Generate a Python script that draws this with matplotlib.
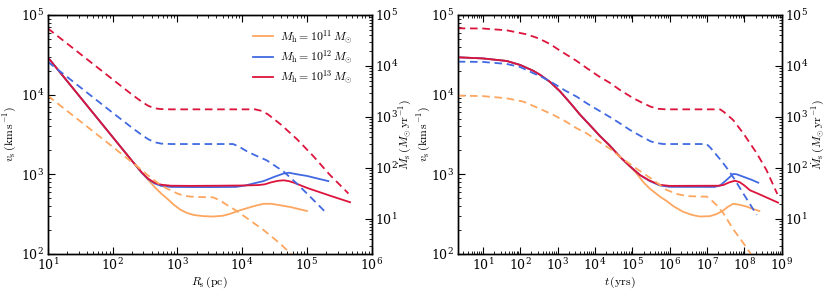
import numpy as np
import matplotlib
matplotlib.use("Agg")
import matplotlib.pyplot as plt
from matplotlib.ticker import LogLocator, NullFormatter

plt.rcParams['mathtext.fontset'] = 'cm'
plt.rcParams['font.family'] = ['DejaVu Serif']
plt.rcParams['axes.unicode_minus'] = False

C_ORANGE = '#FDA65F'
C_BLUE = '#4169E1'
C_RED = '#DC143C'

labels = [r'$M_{\rm h}=10^{11}\,M_{\odot}$', r'$M_{\rm h}=10^{12}\,M_{\odot}$', r'$M_{\rm h}=10^{13}\,M_{\odot}$']

# ---------------- Left panel: vs R_s (log10 values) ----------------
# solid: v_s (km/s)
L_red_v_logR = [1.0, 1.5, 2.0, 2.3, 2.45, 2.55, 2.65, 2.75, 2.9, 3.2, 3.6, 4.0, 4.25, 4.35, 4.45, 4.55, 4.64, 4.72, 4.8, 5.0, 5.2, 5.4, 5.665]
L_red_v = [4.47, 3.97, 3.47, 3.17, 3.025, 2.945, 2.895, 2.87, 2.857, 2.855, 2.857, 2.86, 2.865, 2.875, 2.90, 2.918, 2.925, 2.915, 2.895, 2.83, 2.775, 2.72, 2.65]

L_blue_v_logR = [1.0, 1.5, 2.0, 2.3, 2.45, 2.55, 2.65, 2.75, 2.9, 3.2, 3.6, 3.9, 4.05, 4.2, 4.33, 4.5, 4.64, 4.72, 4.85, 5.0, 5.15, 5.33]
L_blue_v = [4.47, 3.97, 3.47, 3.17, 3.02, 2.94, 2.885, 2.855, 2.842, 2.84, 2.84, 2.842, 2.86, 2.89, 2.915, 2.97, 3.01, 3.02, 3.0, 2.98, 2.95, 2.915]

L_orange_v_logR = [1.0, 1.5, 2.0, 2.3, 2.45, 2.55, 2.65, 2.75, 2.85, 2.95, 3.05, 3.15, 3.25, 3.4, 3.55, 3.7, 3.81, 3.95, 4.07, 4.2, 4.33, 4.45, 4.6, 4.74, 4.87, 5.0]
L_orange_v = [4.47, 3.97, 3.47, 3.17, 3.02, 2.93, 2.84, 2.76, 2.69, 2.615, 2.555, 2.515, 2.49, 2.475, 2.47, 2.48, 2.503, 2.545, 2.574, 2.605, 2.63, 2.63, 2.61, 2.59, 2.565, 2.54]

# dashed: Mdot_s (Msun/yr)
L_red_m_logR = [1.0, 1.5, 2.0, 2.3, 2.45, 2.55, 2.65, 2.75, 2.9, 3.5, 4.2, 4.3, 4.4, 4.6, 4.85, 5.1, 5.35, 5.64]
L_red_m = [4.739, 4.239, 3.739, 3.44, 3.30, 3.22, 3.17, 3.155, 3.15, 3.15, 3.15, 3.12, 3.05, 2.85, 2.56, 2.23, 1.87, 1.50]

L_blue_m_logR = [1.0, 1.5, 2.0, 2.3, 2.45, 2.55, 2.65, 2.75, 2.9, 3.5, 3.86, 3.95, 4.07, 4.2, 4.38, 4.64, 4.84, 5.1, 5.305]
L_blue_m = [4.085, 3.585, 3.085, 2.79, 2.65, 2.565, 2.505, 2.478, 2.47, 2.47, 2.47, 2.42, 2.33, 2.25, 2.15, 1.93, 1.70, 1.373, 1.11]

L_orange_m_logR = [1.0, 1.5, 2.0, 2.42, 2.6, 2.75, 2.85, 3.0, 3.09, 3.2, 3.35, 3.55, 3.65, 3.76, 3.9, 4.07, 4.33, 4.585, 4.74, 4.9]
L_orange_m = [3.418, 2.918, 2.418, 1.99, 1.80, 1.66, 1.59, 1.50, 1.46, 1.44, 1.43, 1.425, 1.37, 1.28, 1.17, 1.02, 0.784, 0.52, 0.33, 0.15]

# ---------------- Right panel: vs t (log10 values) ----------------
R_red_v_logt = [0.33, 1.0, 1.64, 2.0, 2.35, 2.53, 2.8, 3.07, 3.35, 3.6, 3.9, 4.136, 4.4, 4.67, 4.94, 5.21, 5.47, 5.74, 6.0, 7.3, 7.43, 7.6, 7.75, 7.88, 8.0, 8.15, 8.4, 8.59, 8.9]
R_red_v = [4.469, 4.455, 4.423, 4.373, 4.30, 4.25, 4.16, 4.04, 3.89, 3.75, 3.60, 3.48, 3.36, 3.22, 3.10, 2.99, 2.92, 2.868, 2.855, 2.857, 2.865, 2.90, 2.92, 2.90, 2.86, 2.80, 2.75, 2.71, 2.645]

R_blue_v_logt = [0.33, 1.0, 1.64, 2.0, 2.35, 2.53, 2.8, 3.07, 3.35, 3.6, 3.9, 4.136, 4.4, 4.67, 4.94, 5.21, 5.47, 5.74, 6.0, 7.2, 7.35, 7.5, 7.7, 7.8, 7.97, 8.2, 8.37]
R_blue_v = [4.469, 4.455, 4.423, 4.373, 4.30, 4.25, 4.16, 4.04, 3.89, 3.75, 3.60, 3.48, 3.36, 3.22, 3.10, 2.99, 2.915, 2.86, 2.843, 2.842, 2.86, 2.92, 3.005, 3.0, 2.97, 2.93, 2.895]

R_orange_v_logt = [0.33, 1.0, 1.64, 2.0, 2.35, 2.53, 2.8, 3.07, 3.35, 3.6, 3.9, 4.136, 4.4, 4.67, 4.94, 5.1, 5.3, 5.47, 5.74, 5.92, 6.1, 6.36, 6.6, 6.81, 7.08, 7.25, 7.43, 7.55, 7.7, 7.85, 8.06, 8.2, 8.4]
R_orange_v = [4.469, 4.455, 4.423, 4.373, 4.30, 4.25, 4.16, 4.04, 3.89, 3.75, 3.60, 3.48, 3.36, 3.22, 3.10, 3.02, 2.90, 2.82, 2.72, 2.665, 2.60, 2.53, 2.49, 2.47, 2.475, 2.50, 2.545, 2.59, 2.63, 2.62, 2.595, 2.57, 2.54]

R_red_m_logt = [0.33, 1.0, 1.64, 2.18, 2.5, 2.8, 3.07, 3.51, 3.78, 4.1, 4.4, 4.67, 5.0, 5.29, 5.5, 5.7, 5.9, 7.35, 7.45, 7.7, 7.97, 8.33, 8.59, 8.88]
R_red_m = [4.739, 4.735, 4.70, 4.62, 4.54, 4.43, 4.30, 4.10, 3.96, 3.80, 3.67, 3.53, 3.38, 3.27, 3.20, 3.16, 3.15, 3.15, 3.10, 2.94, 2.68, 2.29, 1.96, 1.49]

R_blue_m_logt = [0.33, 1.0, 1.64, 2.0, 2.35, 2.62, 2.89, 3.2, 3.51, 3.78, 4.1, 4.4, 4.67, 4.94, 5.29, 5.5, 5.65, 5.83, 6.99, 7.1, 7.35, 7.52, 7.7, 7.97, 8.33]
R_blue_m = [4.085, 4.08, 4.04, 3.98, 3.86, 3.77, 3.66, 3.52, 3.40, 3.27, 3.13, 3.0, 2.876, 2.745, 2.60, 2.52, 2.49, 2.47, 2.47, 2.39, 2.17, 2.01, 1.82, 1.50, 1.08]

R_orange_m_logt = [0.33, 1.0, 1.64, 2.09, 2.5, 2.89, 3.2, 3.51, 3.78, 4.1, 4.4, 4.67, 5.03, 5.29, 5.56, 5.92, 6.2, 6.45, 6.81, 6.99, 7.1, 7.26, 7.43, 7.7, 7.95, 8.15, 8.3]
R_orange_m = [3.418, 3.41, 3.367, 3.30, 3.17, 3.04, 2.92, 2.78, 2.68, 2.52, 2.38, 2.22, 2.03, 1.90, 1.765, 1.57, 1.49, 1.45, 1.44, 1.44, 1.38, 1.27, 1.12, 0.80, 0.55, 0.34, 0.15]


def p(a):
    return 10.0 ** np.asarray(a)


fig = plt.figure(figsize=(8.3, 2.97), dpi=100)
ax1 = fig.add_axes([0.0575, 0.1448, 0.3904, 0.8047])
ax2 = fig.add_axes([0.5515, 0.1448, 0.3904, 0.8047])

LW = 1.3
DASH = (0, (4.2, 2.6))
TFS = 9
LFS = 8.5


def style(ax, twin, lx, rx):
    for a in (ax, twin):
        for s in a.spines.values():
            s.set_linewidth(1.0)
    ax.set_xscale('log')
    ax.set_yscale('log')
    twin.set_yscale('log')
    ax.tick_params(which='both', direction='in', top=True, right=False, labelsize=TFS, pad=2.5)
    ax.tick_params(which='major', length=5, width=0.8)
    ax.tick_params(which='minor', length=2.5, width=0.6)
    twin.tick_params(which='both', direction='in', right=True, labelsize=TFS, pad=2.5)
    twin.tick_params(which='major', length=5, width=0.8)
    twin.tick_params(which='minor', length=2.5, width=0.6)
    ax.set_ylim(1e2, 1e5)
    twin.set_ylim(2.06, 1e5)
    ax.set_ylabel(r'$v_{\rm s}\,({\rm km\,s^{-1}})$', fontsize=LFS)
    twin.set_ylabel(r'$\dot{M}_{\rm s}\,(M_{\odot}\,{\rm yr^{-1}})$', fontsize=LFS)
    ax.yaxis.set_label_coords(lx, 0.5)
    twin.yaxis.set_label_coords(rx, 0.5)
    ax.xaxis.set_major_locator(LogLocator(base=10, numticks=30))
    ax.xaxis.set_minor_locator(LogLocator(base=10, subs=np.arange(2, 10), numticks=30))
    ax.xaxis.set_minor_formatter(NullFormatter())
    ax.yaxis.set_major_locator(LogLocator(base=10, numticks=30))
    ax.yaxis.set_minor_locator(LogLocator(base=10, subs=np.arange(2, 10), numticks=30))
    ax.yaxis.set_minor_formatter(NullFormatter())
    twin.yaxis.set_major_locator(LogLocator(base=10, numticks=30))
    twin.yaxis.set_minor_locator(LogLocator(base=10, subs=np.arange(2, 10), numticks=30))
    twin.yaxis.set_minor_formatter(NullFormatter())


# Left panel
t1 = ax1.twinx()
ax1.plot(p(L_orange_v_logR), p(L_orange_v), color=C_ORANGE, lw=LW, label=labels[0], zorder=3)
ax1.plot(p(L_blue_v_logR), p(L_blue_v), color=C_BLUE, lw=LW, label=labels[1], zorder=4)
ax1.plot(p(L_red_v_logR), p(L_red_v), color=C_RED, lw=LW, label=labels[2], zorder=5)
t1.plot(p(L_orange_m_logR), p(L_orange_m), color=C_ORANGE, lw=LW, ls=DASH)
t1.plot(p(L_blue_m_logR), p(L_blue_m), color=C_BLUE, lw=LW, ls=DASH)
t1.plot(p(L_red_m_logR), p(L_red_m), color=C_RED, lw=LW, ls=DASH)
style(ax1, t1, -0.088, 1.076)
ax1.set_xlim(1e1, 1e6)
ax1.set_xlabel(r'$R_{\rm s}\,({\rm pc})$', fontsize=LFS, labelpad=1)
leg = ax1.legend(loc='upper right', frameon=False, fontsize=8.5, handlelength=1.7,
                 handletextpad=0.6, borderaxespad=0.0, borderpad=0.0, labelspacing=0.25,
                 bbox_to_anchor=(0.942, 0.945))

# Right panel
t2 = ax2.twinx()
ax2.plot(p(R_orange_v_logt), p(R_orange_v), color=C_ORANGE, lw=LW, zorder=3)
ax2.plot(p(R_blue_v_logt), p(R_blue_v), color=C_BLUE, lw=LW, zorder=4)
ax2.plot(p(R_red_v_logt), p(R_red_v), color=C_RED, lw=LW, zorder=5)
t2.plot(p(R_orange_m_logt), p(R_orange_m), color=C_ORANGE, lw=LW, ls=DASH)
t2.plot(p(R_blue_m_logt), p(R_blue_m), color=C_BLUE, lw=LW, ls=DASH)
t2.plot(p(R_red_m_logt), p(R_red_m), color=C_RED, lw=LW, ls=DASH)
style(ax2, t2, -0.075, 1.084)
ax2.set_xlim(2.14, 1e9)
ax2.set_xlabel(r'$t\,({\rm yrs})$', fontsize=LFS, labelpad=1)

fig.savefig('out.png', dpi=100)
